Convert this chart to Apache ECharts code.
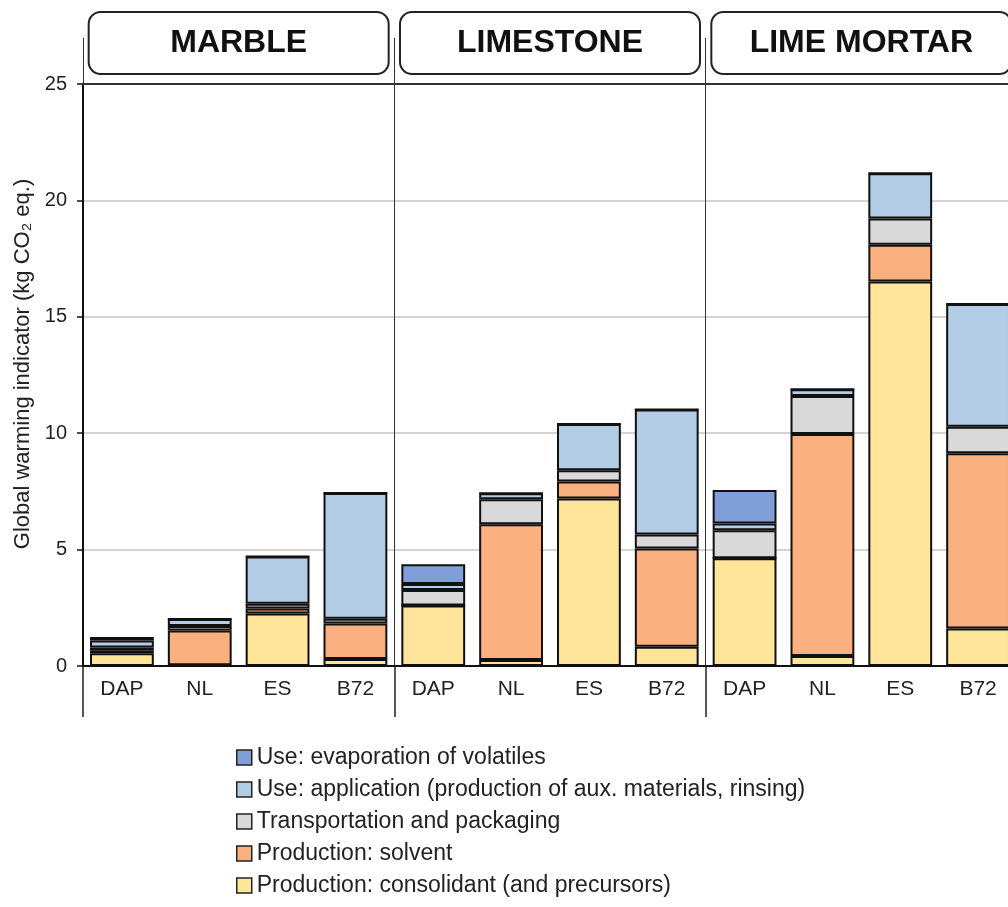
<!DOCTYPE html>
<html>
<head>
<meta charset="utf-8">
<script src="https://cdn.jsdelivr.net/npm/echarts@6/dist/echarts.min.js"></script>
<style>
    html, body { margin: 0; padding: 0; background: #fff; }
    #chart_gwi { width: 1008px; height: 907px; }
</style>
</head>
<body>
<div id="chart_gwi"></div>
<script>
// data
var categories = ['DAP', 'NL', 'ES', 'B72', 'DAP', 'NL', 'ES', 'B72', 'DAP', 'NL', 'ES', 'B72'];
var groups = ['MARBLE', 'LIMESTONE', 'LIME MORTAR'];
var yTicks = [0, 5, 10, 15, 20, 25];

var consolidant = [0.55, 0.03, 2.26, 0.3, 2.6, 0.26, 7.19, 0.83, 4.63, 0.43, 16.52, 1.61];
var solvent = [0.1, 1.49, 0.21, 1.53, 0, 5.83, 0.73, 4.22, 0, 9.54, 1.57, 7.53];
var transport = [0.15, 0.2, 0.2, 0.2, 0.66, 1.07, 0.49, 0.6, 1.2, 1.63, 1.13, 1.14];
var application = [0.3, 0.3, 2.03, 5.4, 0.26, 0.26, 1.98, 5.37, 0.29, 0.29, 1.95, 5.27];
var evaporation = [0.15, 0, 0, 0, 0.85, 0, 0, 0, 1.44, 0, 0, 0];

var names = [
    'Production: consolidant (and precursors)',
    'Production: solvent',
    'Transportation and packaging',
    'Use: application (production of aux. materials, rinsing)',
    'Use: evaporation of volatiles'
];
var colors = ['#FFE599', '#FBB07F', '#D9D9D9', '#B4CDE7', '#809FD8'];
var values = [consolidant, solvent, transport, application, evaporation];

var myChart = echarts.init(document.getElementById('chart_gwi'));

var series = values.map(function (arr, i) {
    return {
        name: names[i],
        type: 'bar',
        stack: 'total',
        barWidth: '82%',
        xAxisIndex: 0,
        itemStyle: {
            color: colors[i],
            borderColor: '#111',
            borderWidth: 2
        },
        data: arr
    };
});

var option = {
    animation: false,
    textStyle: { fontFamily: 'Arial, "Liberation Sans", sans-serif' },
    grid: {
        left: 83,
        top: 84,
        width: 934,
        bottom: 241,
        outerBoundsMode: 'none',
        containLabel: false
    },
    legend: {
        orient: 'vertical',
        left: 231,
        top: 741,
        itemWidth: 15,
        itemHeight: 15,
        itemGap: 9,
        icon: 'rect',
        data: names.slice().reverse(),
        itemStyle: { borderWidth: 1.5, borderColor: '#222' },
        textStyle: { fontSize: 23, color: '#222' }
    },
    xAxis: [
        {
            type: 'category',
            data: categories,
            axisLine: { lineStyle: { color: '#111', width: 2 } },
            axisTick: { show: false },
            axisLabel: { fontSize: 21, color: '#222', margin: 13, interval: 0 }
        },
        {
            // group boundaries below the axis
            type: 'category',
            data: groups,
            position: 'bottom',
            axisLine: { show: false },
            axisTick: { show: true, length: 51, lineStyle: { color: '#222', width: 1.5 } },
            axisLabel: { show: false },
            splitLine: { show: false }
        },
        {
            // group headers on top
            type: 'category',
            data: groups,
            position: 'top',
            axisLine: { show: true, lineStyle: { color: '#333', width: 2 } },
            axisTick: { show: true, length: 46, lineStyle: { color: '#333', width: 1 } },
            splitLine: { show: true, lineStyle: { color: '#333', width: 1 } },
            axisLabel: {
                interval: 0,
                margin: 11,
                fontSize: 32,
                fontWeight: 'bold',
                color: '#111',
                width: 298,
                height: 60,
                lineHeight: 60,
                align: 'center',
                verticalAlign: 'bottom',
                borderColor: '#222',
                borderWidth: 2,
                borderRadius: 11,
                backgroundColor: '#fff'
            }
        }
    ],
    yAxis: {
        type: 'value',
        min: 0,
        max: 25,
        interval: 5,
        name: 'Global warming indicator (kg CO\u2082 eq.)',
        nameLocation: 'middle',
        nameGap: 47,
        nameTextStyle: { fontSize: 22, color: '#222', padding: [0, 0, 0, 22] },
        axisLine: { show: true, lineStyle: { color: '#111', width: 2 } },
        axisTick: { show: true, length: 6, lineStyle: { color: '#111', width: 1.5 } },
        axisLabel: {
            fontSize: 20,
            color: '#222',
            margin: 16,
            formatter: function (v) { return yTicks.indexOf(v) >= 0 ? String(v) : ''; }
        },
        splitLine: { lineStyle: { color: '#D4D4D4', width: 2 } }
    },
    series: series
};

myChart.setOption(option);
window.addEventListener('resize', function () {
    myChart.resize();
});
</script>
</body>
</html>
